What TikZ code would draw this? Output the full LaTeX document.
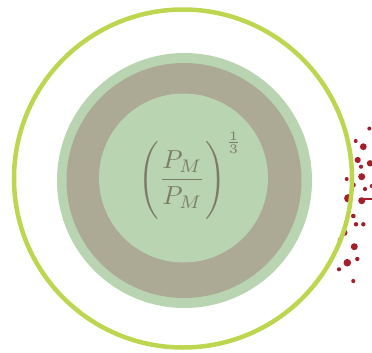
\documentclass[tikz,border=0pt]{standalone}
\usepackage{amsmath}
\usepackage{tikz}
\usetikzlibrary{positioning}

\definecolor{ringlime}{HTML}{BDD650}
\definecolor{softgreen}{HTML}{B9D4B0}
\definecolor{clayband}{HTML}{ACA995}
\definecolor{inkgray}{HTML}{7D7A68}
\definecolor{dotred}{HTML}{A51F2A}

\begin{document}
\begin{tikzpicture}[x=1pt,y=-1pt,
  disc/.style={fill=softgreen},
  band/.style={fill=clayband},
  ring/.style={draw=ringlime,line width=4.5pt},
  speck/.style={fill=dotred},
  formula/.style={text=inkgray,scale=2.6,transform shape,inner sep=0pt}]
\useasboundingbox (0,0) rectangle (372,353);
% ---- scattered dots (behind the ring) ----
\foreach \px/\py/\pr in {369.3/128.5/2, 355.7/141/2, 363.3/146.7/3.4,
    357.7/160/3.1, 370/163.3/3.2, 361/166.7/2.1, 361.7/176.7/3.5,
    346.7/179/2, 353.3/185/2.5, 365/189/2.1, 371.7/186/2,
    348.3/198.3/4.2, 361.7/200.7/3.5, 353.3/216/2.3, 356/224.3/2.2,
    363.3/224.3/2.2, 344.3/232.7/3.2, 354.3/246.7/3.5, 340/240/2.3,
    347.3/262.7/3.8, 357.3/259/2.2, 339/269.3/2.1, 353.3/281/2.1}
  \fill[speck] (\px,\py) circle[radius=\pr];
\draw[dotred,line width=1.3pt] (364,199) -- (372,199);
% ---- concentric discs ----
\fill[disc] (184.5,180.5) circle[radius=127.5];
\fill[band] (184,180.5) circle[radius=117.5];
\fill[disc] (183.5,178) circle[radius=84.5];
% ---- outer ring ----
\draw[ring] (183,178.5) circle[radius=169];
% ---- ratio ----
\node[formula] (ratio) at (190.5,175.5) {$\displaystyle\Biggl(\frac{P_M}{P_M}\Biggr)^{\frac{1}{3}}$};
\end{tikzpicture}
\end{document}
